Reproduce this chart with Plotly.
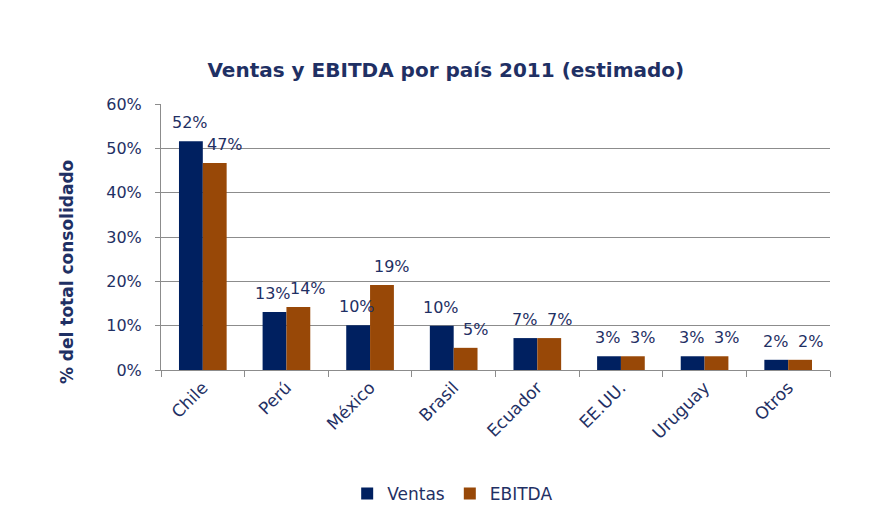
import plotly.graph_objects as go

# Data
PAISES = ["Chile", "Perú", "México", "Brasil", "Ecuador", "EE.UU.", "Uruguay", "Otros"]
VENTAS = [0.516, 0.131, 0.101, 0.100, 0.072, 0.031, 0.031, 0.023]
EBITDA = [0.467, 0.142, 0.192, 0.050, 0.072, 0.031, 0.031, 0.023]

NAVY = "#002060"
BROWN = "#984807"
TEXT = "#1F3064"
GRID = "#8C8C8C"
FONT_FAMILY = "DejaVu Sans, Verdana, sans-serif"

fig = go.Figure()
fig.add_trace(go.Bar(x=PAISES, y=VENTAS, name="Ventas", marker_color=NAVY, marker_line_width=0))
fig.add_trace(go.Bar(x=PAISES, y=EBITDA, name="EBITDA", marker_color=BROWN, marker_line_width=0))

# data labels, placed like Excel does: a bit above the bar, EBITDA nudged right
label_font = dict(size=16, color=TEXT)
for pais, v, e in zip(PAISES, VENTAS, EBITDA):
    fig.add_annotation(x=pais, y=v, text=f"{v:.0%}", showarrow=False,
                       xshift=-13, yshift=7, yanchor="bottom", font=label_font)
    fig.add_annotation(x=pais, y=e, text=f"{e:.0%}", showarrow=False,
                       xshift=22, yshift=7, yanchor="bottom", font=label_font)

# y axis title (sits a bit low, as in the original)
fig.add_annotation(
    text="<b>% del total consolidado</b>",
    xref="paper", yref="paper", x=-0.1405, y=0.368,
    xanchor="center", yanchor="middle", textangle=-90,
    showarrow=False, font=dict(size=17, color=TEXT),
)

fig.update_yaxes(
    range=[0, 0.6],
    dtick=0.1,
    tickformat=".0%",
    showgrid=True,
    gridcolor=GRID,
    gridwidth=1,
    showline=True,
    linecolor=GRID,
    ticks="outside",
    ticklen=5,
    tickcolor=GRID,
    ticklabelstandoff=10,
    tickfont=dict(size=16, color=TEXT),
    zeroline=False,
)
fig.update_xaxes(
    showline=True,
    linecolor=GRID,
    ticks="outside",
    tickson="boundaries",
    ticklen=6,
    tickcolor=GRID,
    tickangle=-45,
    tickfont=dict(size=17, color=TEXT),
)

fig.update_layout(
    width=867,
    height=523,
    barmode="group",
    bargap=0.43,
    bargroupgap=0,
    plot_bgcolor="white",
    paper_bgcolor="white",
    font=dict(family=FONT_FAMILY, color=TEXT),
    title=dict(
        text="<b>Ventas y EBITDA por país 2011 (estimado)</b>",
        font=dict(size=20, color=TEXT),
        x=0.505,
        xanchor="center",
        y=1 - 62 / 523,
        yanchor="middle",
    ),
    margin=dict(l=153, r=45, t=96, b=161),
    legend=dict(
        orientation="h",
        x=0.436,
        xanchor="center",
        y=-0.466,
        yanchor="middle",
        font=dict(size=17, color=TEXT),
        itemwidth=30,
        traceorder="normal",
    ),
    showlegend=True,
)

fig.write_html("out.html")
